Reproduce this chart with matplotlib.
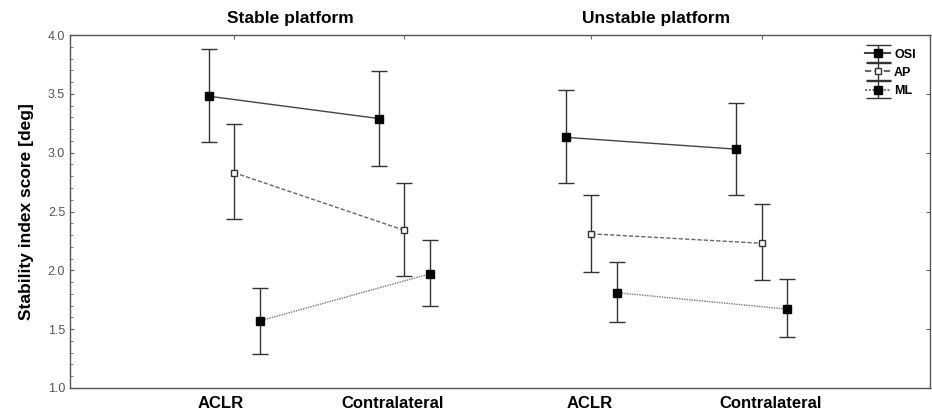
import matplotlib
matplotlib.use("Agg")
import matplotlib.pyplot as plt
from matplotlib.legend_handler import HandlerErrorbar
import numpy as np

plt.rcParams['font.family'] = ['Liberation Sans', 'DejaVu Sans']

# Data
platforms = ["Stable platform", "Unstable platform"]
sides = ["ACLR", "Contralateral"]
series = ["OSI", "AP", "ML"]
# order: [stable ACLR, stable contra, unstable ACLR, unstable contra]
osi_mean = [3.48, 3.29, 3.13, 3.03]
osi_low = [3.09, 2.89, 2.74, 2.64]
osi_high = [3.88, 3.69, 3.53, 3.42]
ap_mean = [2.83, 2.34, 2.31, 2.23]
ap_low = [2.44, 1.95, 1.99, 1.92]
ap_high = [3.24, 2.74, 2.64, 2.56]
ml_mean = [1.57, 1.97, 1.81, 1.67]
ml_low = [1.29, 1.70, 1.56, 1.43]
ml_high = [1.85, 2.26, 2.07, 1.93]

pos = np.array([0.0, 1.0, 2.1, 3.1])
offsets = [-0.15, 0.0, 0.15]

fig = plt.figure(figsize=(9.32, 4.12), dpi=100)
ax = fig.add_axes([70/932, 1-388/412, 860/932, (388-35)/412])

styles = [
    dict(ls='-', color='#444444', mfc='black', mec='black', marker='s', ms=5.6, lw=1.0),
    dict(ls=(0, (3, 1.5)), color='#666666', mfc='white', mec='#333333', marker='s', ms=4.8, lw=1.0),
    dict(ls=(0, (1, 0.8)), color='#777777', mfc='black', mec='black', marker='s', ms=5.6, lw=1.0),
]
data = [(osi_mean, osi_low, osi_high), (ap_mean, ap_low, ap_high), (ml_mean, ml_low, ml_high)]

handles = []
for si, (name, (m, lo, hi), st, off) in enumerate(zip(series, data, styles, offsets)):
    m = np.array(m); lo = np.array(lo); hi = np.array(hi)
    yerr = np.vstack([m - lo, hi - m])
    for p in range(2):
        idx = slice(2*p, 2*p+2)
        x = pos[idx] + off
        ax.errorbar(x, m[idx], yerr=yerr[:, idx], fmt='none', ecolor='#333333',
                    elinewidth=1.0, capsize=5.5, capthick=1.0, zorder=2)
        ax.plot(x, m[idx], linestyle=st['ls'], color=st['color'], lw=st['lw'], zorder=3)
        ax.plot(x, m[idx], linestyle='none', marker=st['marker'], ms=st['ms'],
                mfc=st['mfc'], mec=st['mec'], mew=1.0, zorder=4)
    h = ax.errorbar([np.nan], [np.nan], yerr=[[0.1], [0.1]], marker='s', ls=st['ls'],
                    color=st['color'], mfc=st['mfc'], mec=st['mec'], ms=st['ms'],
                    ecolor='#333333', elinewidth=1.0, capsize=9, capthick=1.0, label=name)
    handles.append(h)

ax.set_xlim(-0.965, 4.09)
ax.set_ylim(1.0, 4.0)
ax.set_yticks([1.0, 1.5, 2.0, 2.5, 3.0, 3.5, 4.0])
ax.set_yticklabels([f"{v:.1f}" for v in [1.0, 1.5, 2.0, 2.5, 3.0, 3.5, 4.0]])
ax.set_yticks(np.arange(1.0, 4.01, 0.1), minor=True)
ax.tick_params(axis='y', which='both', direction='in', left=True, right=True,
               labelsize=9, labelcolor='#555555', color='#666666')
ax.tick_params(axis='y', which='minor', length=2, right=False)
ax.tick_params(axis='y', which='major', length=3)
ax.set_xticks(pos)
ax.set_xticklabels([])
ax.tick_params(axis='x', direction='in', top=True, bottom=False, length=3, color='#666666')

for sp in ax.spines.values():
    sp.set_color('#555555')
    sp.set_linewidth(1.0)

labels_x = [-0.08, 0.93, 2.09, 3.15]
for lx, lab in zip(labels_x, sides * 2):
    ax.text(lx, -0.022, lab, transform=ax.get_xaxis_transform(), ha='center', va='top',
            fontsize=12, fontweight='bold')
for tx, t in zip([0.33, 2.48], platforms):
    ax.text(tx, 1.025, t, transform=ax.get_xaxis_transform(), ha='center', va='bottom',
            fontsize=12.5, fontweight='bold')

ax.set_ylabel("Stability index score [deg]", fontsize=12.5, fontweight='bold', labelpad=10)

ax.legend(handles=handles, loc='upper right', frameon=False,
          prop={'weight': 'bold', 'size': 9}, handlelength=2.0, handletextpad=0.3,
          borderaxespad=0.4, labelspacing=0.5, bbox_to_anchor=(0.995, 0.99),
          handler_map={type(handles[0]): HandlerErrorbar(yerr_size=0.68)})

fig.savefig("out.png", dpi=100)
